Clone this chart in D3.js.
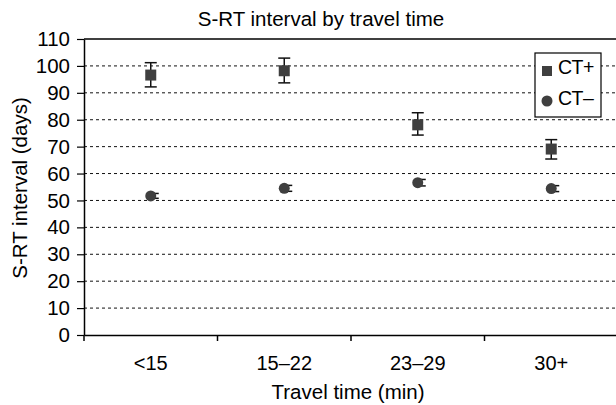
<!DOCTYPE html>
<html>
<head>
<meta charset="utf-8">
<script src="https://cdn.jsdelivr.net/npm/d3@7"></script>
<style>
  body { margin: 0; background: #fff; }
  text { font-family: "Liberation Sans", Arial, sans-serif; }
</style>
</head>
<body>
<div id="chart"></div>
<script>
// data
var categories = ["<15", "15\u201322", "23\u201329", "30+"];
var ctPos = [96.6, 98.2, 78.1, 69.1];
var ctPosLow = [92.2, 93.7, 74.3, 65.4];
var ctPosHigh = [101.2, 102.9, 82.6, 72.6];
var ctNeg = [51.7, 54.5, 56.6, 54.4];
var ctNegLow = [50.8, 53.4, 55.4, 53.3];
var ctNegHigh = [52.6, 55.6, 57.8, 55.5];
var yTicks = [0, 10, 20, 30, 40, 50, 60, 70, 80, 90, 100, 110];

var margin = {top: 39, right: 0, bottom: 70, left: 84},
    width = 618 - margin.left - margin.right,
    height = 405 - margin.top - margin.bottom;

var svg = d3.select("#chart").append("svg")
    .attr("width", 616)
    .attr("height", 405);

var g = svg.append("g")
    .attr("transform", "translate(" + margin.left + "," + margin.top + ")");

var x = d3.scaleBand()
    .domain(categories)
    .range([0, width]);

var y = d3.scaleLinear()
    .domain([0, 110])
    .range([height, 0]);

// dashed gridlines
g.selectAll(".grid")
    .data(yTicks.filter(function(d) { return d > 0 && d < 110; }))
    .enter()
  .append("line")
    .attr("class", "grid")
    .attr("x1", 0)
    .attr("x2", width)
    .attr("y1", function(d) { return y(d); })
    .attr("y2", function(d) { return y(d); })
    .attr("stroke", "#111")
    .attr("stroke-width", 1)
    .attr("stroke-dasharray", "3,3");

// top border line
g.append("line")
    .attr("x1", 0).attr("x2", width)
    .attr("y1", y(110)).attr("y2", y(110))
    .attr("stroke", "#000").attr("stroke-width", 1.5);

// y axis
var yAxis = g.append("g")
    .call(d3.axisLeft(y).tickValues(yTicks).tickSize(7).tickPadding(7).tickSizeOuter(0));
yAxis.select(".domain").attr("stroke-width", 1.5);
yAxis.selectAll(".tick line").attr("stroke-width", 1.2);
yAxis.selectAll("text")
    .attr("font-size", 20.5)
    .attr("font-family", "Liberation Sans, Arial, sans-serif")
    .attr("fill", "#000");

// x axis with ticks at band edges
var xAxis = g.append("g")
    .attr("transform", "translate(0," + height + ")")
    .call(d3.axisBottom(x).tickSize(0).tickSizeOuter(0));
xAxis.select(".domain").attr("stroke-width", 1.5);
xAxis.selectAll("text")
    .attr("font-size", 20)
    .attr("font-family", "Liberation Sans, Arial, sans-serif")
    .attr("dy", null)
    .attr("y", 35)
    .attr("fill", "#000");

g.selectAll(".xtick")
    .data(categories)
    .enter()
  .append("line")
    .attr("class", "xtick")
    .attr("x1", function(d) { return x(d); })
    .attr("x2", function(d) { return x(d); })
    .attr("y1", height)
    .attr("y2", height + 6)
    .attr("stroke", "#000")
    .attr("stroke-width", 1.5);

var cx = function(d, i) { return x(categories[i]) + x.bandwidth() / 2; };

// error bars CT-
var negBars = g.selectAll(".negbar")
    .data(ctNeg)
    .enter()
  .append("g")
    .attr("class", "negbar")
    .attr("stroke", "#111")
    .attr("stroke-width", 1.5);
negBars.append("line")
    .attr("x1", function(d, i) { return cx(d, i) + 3; })
    .attr("x2", function(d, i) { return cx(d, i) + 3; })
    .attr("y1", function(d, i) { return y(ctNegLow[i]); })
    .attr("y2", function(d, i) { return y(ctNegHigh[i]); });
negBars.append("line")
    .attr("x1", function(d, i) { return cx(d, i) - 2; })
    .attr("x2", function(d, i) { return cx(d, i) + 8; })
    .attr("y1", function(d, i) { return y(ctNegLow[i]); })
    .attr("y2", function(d, i) { return y(ctNegLow[i]); });
negBars.append("line")
    .attr("x1", function(d, i) { return cx(d, i) - 2; })
    .attr("x2", function(d, i) { return cx(d, i) + 8; })
    .attr("y1", function(d, i) { return y(ctNegHigh[i]); })
    .attr("y2", function(d, i) { return y(ctNegHigh[i]); });

g.selectAll(".neg")
    .data(ctNeg)
    .enter()
  .append("circle")
    .attr("class", "neg")
    .attr("cx", cx)
    .attr("cy", function(d) { return y(d); })
    .attr("r", 5.5)
    .attr("fill", "#3f3f3f");

// error bars CT+
var posBars = g.selectAll(".posbar")
    .data(ctPos)
    .enter()
  .append("g")
    .attr("class", "posbar")
    .attr("stroke", "#111")
    .attr("stroke-width", 1.5);
posBars.append("line")
    .attr("x1", cx).attr("x2", cx)
    .attr("y1", function(d, i) { return y(ctPosLow[i]); })
    .attr("y2", function(d, i) { return y(ctPosHigh[i]); });
posBars.append("line")
    .attr("x1", function(d, i) { return cx(d, i) - 6; })
    .attr("x2", function(d, i) { return cx(d, i) + 6; })
    .attr("y1", function(d, i) { return y(ctPosLow[i]); })
    .attr("y2", function(d, i) { return y(ctPosLow[i]); });
posBars.append("line")
    .attr("x1", function(d, i) { return cx(d, i) - 6; })
    .attr("x2", function(d, i) { return cx(d, i) + 6; })
    .attr("y1", function(d, i) { return y(ctPosHigh[i]); })
    .attr("y2", function(d, i) { return y(ctPosHigh[i]); });

g.selectAll(".pos")
    .data(ctPos)
    .enter()
  .append("rect")
    .attr("class", "pos")
    .attr("x", function(d, i) { return cx(d, i) - 5.5; })
    .attr("y", function(d) { return y(d) - 5.5; })
    .attr("width", 11)
    .attr("height", 11)
    .attr("fill", "#3f3f3f");

// legend
var legend = svg.append("g")
    .attr("transform", "translate(535,53)");
legend.append("rect")
    .attr("width", 66)
    .attr("height", 64)
    .attr("fill", "#fff")
    .attr("stroke", "#000")
    .attr("stroke-width", 1.2);
legend.append("rect")
    .attr("x", 7).attr("y", 13)
    .attr("width", 10).attr("height", 10)
    .attr("fill", "#3f3f3f");
legend.append("circle")
    .attr("cx", 12).attr("cy", 48)
    .attr("r", 5.5)
    .attr("fill", "#3f3f3f");
legend.append("text")
    .attr("x", 23).attr("y", 21)
    .attr("font-size", 19.5)
    .attr("letter-spacing", "-0.5")
    .text("CT+");
legend.append("text")
    .attr("x", 23).attr("y", 52)
    .attr("font-size", 19.5)
    .attr("letter-spacing", "-0.5")
    .text("CT\u2013");

// title and axis labels
svg.append("text")
    .attr("x", 321)
    .attr("y", 26)
    .attr("text-anchor", "middle")
    .attr("font-size", 20.5)
    .text("S-RT interval by travel time");

svg.append("text")
    .attr("transform", "rotate(-90)")
    .attr("x", -188)
    .attr("y", 27)
    .attr("text-anchor", "middle")
    .attr("font-size", 20.5)
    .text("S-RT interval (days)");

svg.append("text")
    .attr("x", 348)
    .attr("y", 399)
    .attr("text-anchor", "middle")
    .attr("font-size", 20.5)
    .text("Travel time (min)");
</script>
</body>
</html>
